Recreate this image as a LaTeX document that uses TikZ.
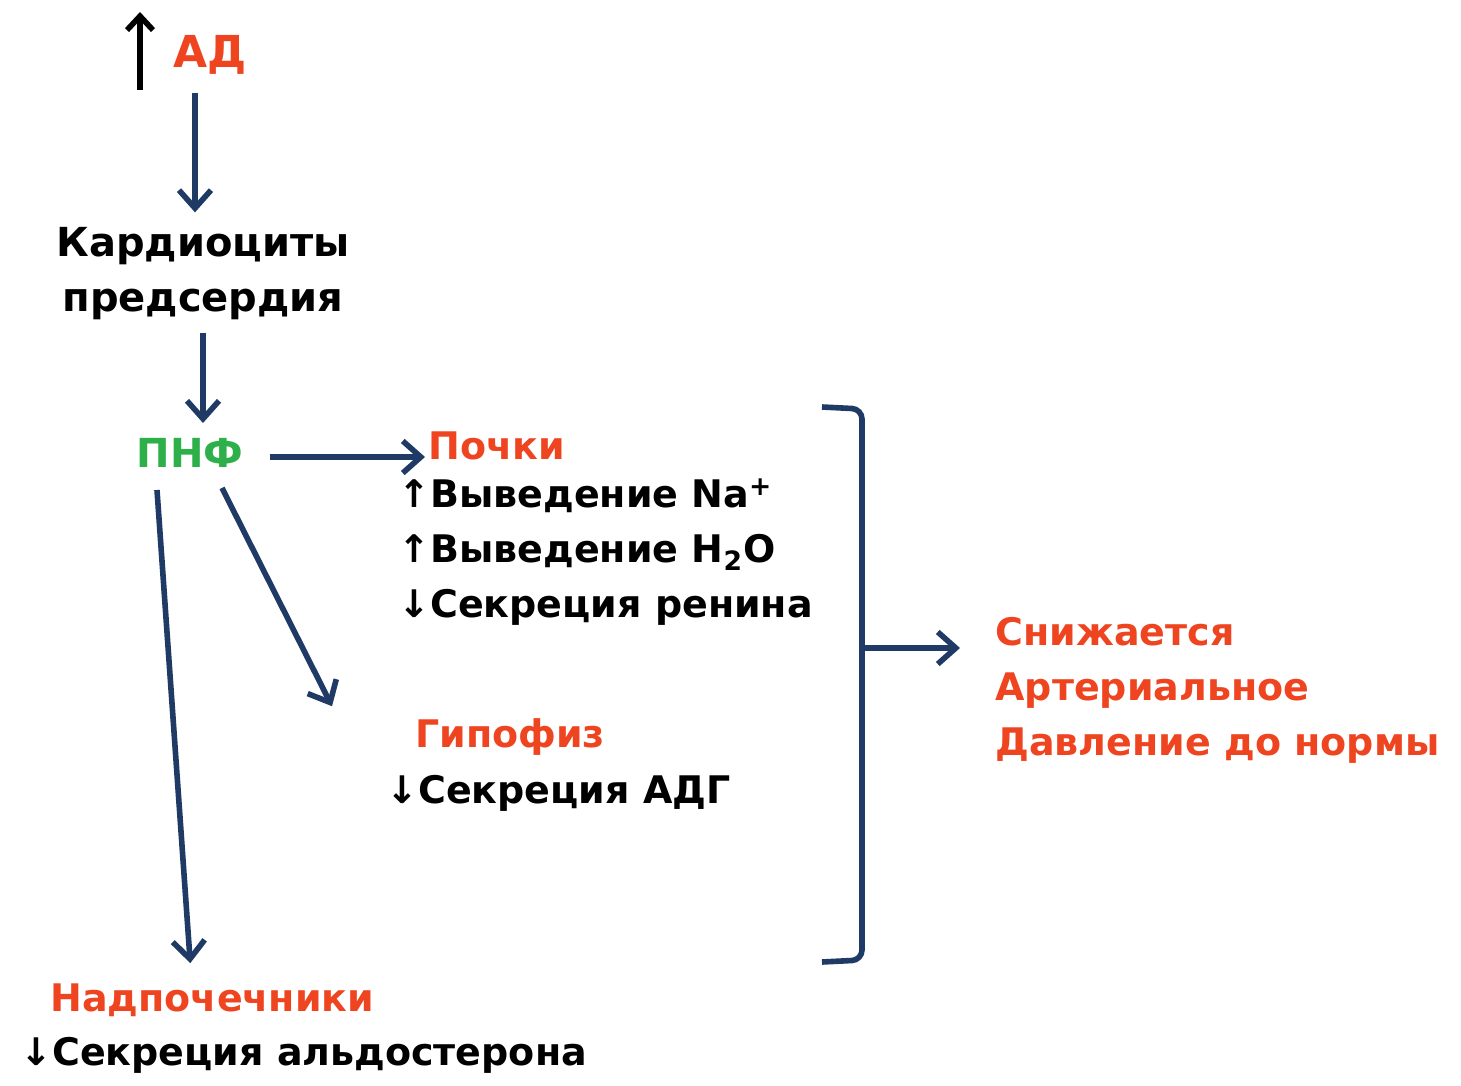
\documentclass[tikz,border=0pt]{standalone}
\usepackage{fontspec}
\setmainfont{DejaVu Sans}
\usetikzlibrary{arrows.meta,calc}
\definecolor{hred}{HTML}{EE4520}
\definecolor{hgreen}{HTML}{2DB04A}
\definecolor{hnavy}{HTML}{1F3A64}
\begin{document}
\begin{tikzpicture}[x=0.5pt,y=-0.5pt,
  txt/.style={inner sep=0pt,font=\fontsize{19}{27.5}\selectfont\bfseries},
  lbl/.style={txt,anchor=west,align=left},
  arr/.style={draw=hnavy,line width=2.8pt,-{Straight Barb[length=9pt,width=16pt,line width=2.8pt]}},
  barr/.style={draw=black,line width=2.8pt,-{Straight Barb[length=7pt,width=13pt,line width=2.8pt]}}]
\useasboundingbox (0,0) rectangle (1461,1086);
\node[txt,text=hred,font=\fontsize{22}{27}\selectfont\bfseries] (ad) at (210,55) {АД};
\coordinate (adup0) at (140,90);
\coordinate (adup1) at (140,12);
\draw[barr] (adup0) -- (adup1);
\node[txt,align=center,font=\fontsize{20}{27.5}\selectfont\bfseries] (kard) at (203,274) {Кардиоциты\\предсердия};
\node[txt,text=hgreen,font=\fontsize{20}{27}\selectfont\bfseries] (pnf) at (190,453) {ПНФ};
\node[lbl,text=hred] (pochki) at (428,446) {Почки};
\node[lbl] (kidney) at (398,552) {↑Выведение Na\textsuperscript{+}\\↑Выведение H\textsubscript{2}O\\↓Секреция ренина};
\node[lbl,text=hred] (gipo) at (415,737) {Гипофиз};
\node[lbl] (adg) at (386,793) {↓Секреция АДГ};
\node[lbl,text=hred] (nadp) at (50,1000) {Надпочечники};
\node[lbl] (aldo) at (20,1055) {↓Секреция альдостерона};
\node[lbl,text=hred] (res) at (995,690) {Снижается\\Артериальное\\Давление до нормы};
\draw[arr] ($(ad.south)+(-15,18)$) -- ($(kard.north)+(-8,-15)$);
\draw[arr] ($(kard.south)+(0,12)$) -- ($(pnf.north)+(13,-15)$);
\draw[arr] ($(pnf.east)+(26,4)$) -- ($(pochki.west)+(-3,11)$);
\draw[arr] ($(pnf.south)+(32,20)$) -- ($(gipo.north west)+(-83,-12)$);
\draw[arr] ($(pnf.south)+(-33,22)$) -- ($(nadp.north)+(-22,-20)$);
\draw[hnavy,line width=2.8pt,rounded corners=5pt] (822,407) -- (862,409) -- (862,960) -- (822,962);
\coordinate (brmid) at (862,648);
\draw[arr] (brmid) -- ($(res.west)+(-35,-42)$);
\end{tikzpicture}
\end{document}
